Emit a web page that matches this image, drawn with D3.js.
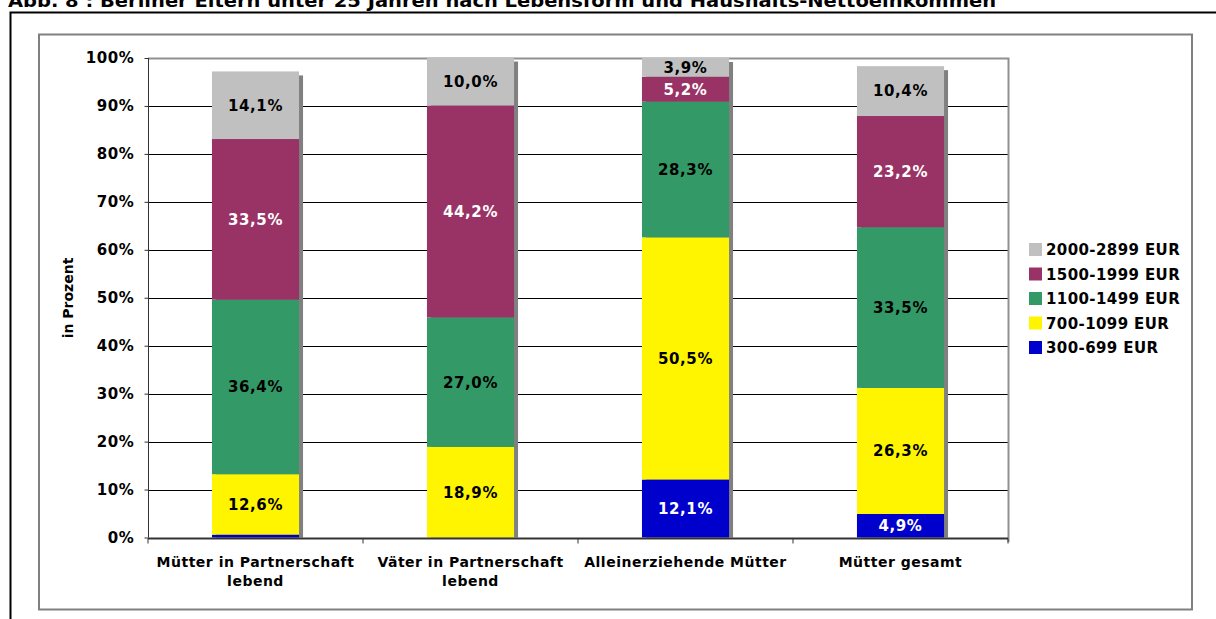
<!DOCTYPE html>
<html>
<head>
<meta charset="utf-8">
<script src="https://cdn.jsdelivr.net/npm/d3@7"></script>
<style>
  body { margin: 0; background: #fff; }
  svg { display: block; font-family: "DejaVu Sans", Verdana, sans-serif; font-weight: bold; }
</style>
</head>
<body>
<div id="chart"></div>
<script>
const title = "Abb. 8 : Berliner Eltern unter 25 Jahren nach Lebensform und Haushalts-Nettoeinkommen";
const categories = ["Mütter in Partnerschaft lebend", "Väter in Partnerschaft lebend", "Alleinerziehende Mütter", "Mütter gesamt"];
const categoryLines = [["Mütter in Partnerschaft", "lebend"], ["Väter in Partnerschaft", "lebend"], ["Alleinerziehende Mütter"], ["Mütter gesamt"]];
const seriesNames = ["300-699 EUR", "700-1099 EUR", "1100-1499 EUR", "1500-1999 EUR", "2000-2899 EUR"];
const eur300 = [0.6, 0, 12.1, 4.9];
const eur700 = [12.6, 18.9, 50.5, 26.3];
const eur1100 = [36.4, 27.0, 28.3, 33.5];
const eur1500 = [33.5, 44.2, 5.2, 23.2];
const eur2000 = [14.1, 10.0, 3.9, 10.4];
const yTicks = [0, 10, 20, 30, 40, 50, 60, 70, 80, 90, 100];
const colors = ["#0000CC", "#FFF500", "#339966", "#993366", "#C0C0C0"];
const labelColors = ["#fff", "#000", "#000", "#fff", "#000"];

class Chart {
  constructor() {
    this.width = 1216;
    this.height = 619;
    this.svg = d3.select("#chart").append("svg")
      .attr("width", this.width)
      .attr("height", this.height);
    // one row per category, keyed by series name
    const cols = [eur300, eur700, eur1100, eur1500, eur2000];
    this.rows = categories.map((c, i) => {
      const r = {cat: c};
      seriesNames.forEach((s, j) => r[s] = cols[j][i]);
      return r;
    });
  }

  display() {
    const svg = this.svg;

    // title, cut off at the top like the scan
    svg.append("text")
      .attr("x", 8).attr("y", 7)
      .attr("textLength", 988).attr("lengthAdjust", "spacingAndGlyphs")
      .style("font-size", "18px")
      .text(title);

    // outer black frame (top + left)
    svg.append("path")
      .attr("d", "M10.5,619 V12.5 H1216")
      .attr("fill", "none").attr("stroke", "#000").attr("stroke-width", 2);

    // chart area frame
    svg.append("rect")
      .attr("x", 39).attr("y", 34.5).attr("width", 1153).attr("height", 575)
      .attr("fill", "#fff").attr("stroke", "#808080").attr("stroke-width", 2);

    const x = d3.scaleBand()
      .domain(categories)
      .range([148, 1008])
      .paddingInner(0.595).paddingOuter(0.2975);
    const y = d3.scaleLinear().domain([0, 100]).range([537.5, 58]);

    // gridlines
    svg.append("g").selectAll("line")
      .data(yTicks.filter(d => d > 0 && d < 100))
      .join("line")
      .attr("x1", 148).attr("x2", 1008)
      .attr("y1", d => Math.round(y(d)) + 0.5).attr("y2", d => Math.round(y(d)) + 0.5)
      .attr("stroke", "#000");

    // plot border top/right
    svg.append("path")
      .attr("d", `M148,${Math.round(y(100)) + 0.5} H1008.5 V542`)
      .attr("fill", "none").attr("stroke", "#909090").attr("stroke-width", 2);

    const stack = d3.stack().keys(seriesNames)(this.rows);
    const totals = this.rows.map(r => d3.sum(seriesNames, s => r[s]));

    // bar shadows
    svg.append("g").selectAll("rect")
      .data(this.rows)
      .join("rect")
      .attr("x", d => x(d.cat) + 4)
      .attr("y", (d, i) => y(totals[i]) + 4)
      .attr("width", x.bandwidth())
      .attr("height", (d, i) => y(0) - y(totals[i]) - 4)
      .attr("fill", "#808080");

    // stacked segments
    stack.forEach((layer, j) => {
      svg.append("g").selectAll("rect")
        .data(layer)
        .join("rect")
        .attr("x", d => x(d.data.cat))
        .attr("y", d => y(d[1]))
        .attr("width", x.bandwidth())
        .attr("height", d => y(d[0]) - y(d[1]))
        .attr("fill", colors[j]);
    });

    // value labels
    stack.forEach((layer, j) => {
      svg.append("g").selectAll("text")
        .data(layer.filter(d => d[1] - d[0] >= 1))
        .join("text")
        .attr("x", d => x(d.data.cat) + x.bandwidth() / 2)
        .attr("y", d => y((d[0] + d[1]) / 2))
        .attr("dy", "0.36em")
        .attr("text-anchor", "middle")
        .attr("fill", labelColors[j])
        .style("font-size", "15px")
        .style("letter-spacing", "0.6px")
        .text(d => d3.format(".1f")(d[1] - d[0]).replace(".", ",") + "%");
    });

    // y axis
    const yAxis = svg.append("g")
      .attr("transform", "translate(148.5,0)")
      .call(d3.axisLeft(y).tickValues(yTicks).tickFormat(d => d + "%").tickSize(4).tickPadding(10));
    yAxis.select(".domain").attr("stroke", "#333").attr("d", `M0,${y(100)}V${y(0)}`);
    yAxis.selectAll(".tick line").attr("stroke", "#333");
    yAxis.selectAll("text")
      .attr("fill", "#000")
      .style("font-family", "DejaVu Sans").style("font-size", "15px")
      .style("letter-spacing", "0.6px");

    // x axis
    const xAxis = svg.append("g")
      .attr("transform", `translate(0,${Math.round(y(0)) + 0.5})`)
      .call(d3.axisBottom(x).tickSize(0).tickFormat(""));
    xAxis.select(".domain").attr("stroke", "#333").attr("stroke-width", 2).attr("d", "M148,0H1008");
    xAxis.append("g").selectAll("line")
      .data([148, 363, 578, 793, 1008])
      .join("line")
      .attr("x1", d => d).attr("x2", d => d)
      .attr("y1", 0).attr("y2", 5)
      .attr("stroke", "#333");

    svg.append("g").selectAll("text")
      .data(categories)
      .join("text")
      .attr("x", d => x(d) + x.bandwidth() / 2)
      .attr("y", 567)
      .attr("text-anchor", "middle")
      .style("font-size", "14px")
      .style("letter-spacing", "0.5px")
      .each(function (d, i) {
        d3.select(this).selectAll("tspan")
          .data(categoryLines[i])
          .join("tspan")
          .attr("x", x(d) + x.bandwidth() / 2)
          .attr("dy", (t, k) => k === 0 ? 0 : 19)
          .text(t => t);
      });

    // y title
    svg.append("text")
      .attr("transform", "translate(73,298) rotate(-90)")
      .attr("text-anchor", "middle")
      .style("font-size", "14px")
      .text("in Prozent");

    // legend, highest band on top
    const legend = svg.append("g").selectAll("g")
      .data(seriesNames.slice().reverse())
      .join("g")
      .attr("transform", (d, i) => `translate(1029,${243 + i * 24.5})`);
    legend.append("rect")
      .attr("width", 13).attr("height", 13)
      .attr("fill", d => colors[seriesNames.indexOf(d)]);
    legend.append("text")
      .attr("x", 17).attr("y", 12)
      .style("font-size", "15px")
      .style("letter-spacing", "0.4px")
      .text(d => d);
  }
}

document.addEventListener('DOMContentLoaded', () => {
  const chart = new Chart();
  chart.display();
});
</script>
</body>
</html>
